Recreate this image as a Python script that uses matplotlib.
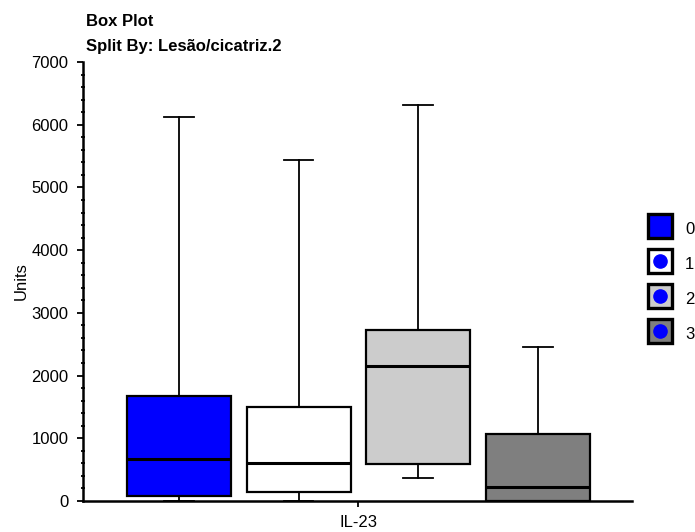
import matplotlib
matplotlib.use("Agg")
import matplotlib.pyplot as plt
from matplotlib.lines import Line2D
from matplotlib.legend_handler import HandlerTuple

plt.rcParams['font.family'] = ['Liberation Sans', 'DejaVu Sans']

# box statistics
groups = ['0', '1', '2', '3']
whislo = [0, 0, 365, 0]
q1 = [80, 144, 590, 0]
med = [670, 611, 2150, 228]
q3 = [1675, 1505, 2725, 1064]
whishi = [6125, 5430, 6320, 2450]
colors = ['#0000ff', '#ffffff', '#cccccc', '#7f7f7f']
show_dot = [False, True, True, True]
xlabel = 'IL-23'

fig = plt.figure(figsize=(6.95, 5.32), dpi=100)
ax = fig.add_axes([83/695, 1 - 501/532, 549/695, 439/532])

stats = []
for i, g in enumerate(groups):
    stats.append(dict(label=g, whislo=whislo[i], q1=q1[i], med=med[i],
                      q3=q3[i], whishi=whishi[i], fliers=[]))

pos = list(range(1, len(groups) + 1))
bp = ax.bxp(stats, positions=pos, widths=0.87, patch_artist=True,
            showfliers=False,
            boxprops=dict(edgecolor='black', linewidth=1.6),
            medianprops=dict(color='black', linewidth=2.2),
            whiskerprops=dict(color='black', linewidth=1.3),
            capprops=dict(color='black', linewidth=1.3),
            capwidths=0.25)
for patch, c in zip(bp['boxes'], colors):
    patch.set_facecolor(c)
    patch.set_zorder(2)

ax.set_xlim(0.197, 4.79)
ax.set_ylim(0, 7000)
ax.set_xticks([2.5])
ax.set_xticklabels([xlabel], fontsize=12)
ax.set_yticks(range(0, 7001, 1000))
ax.set_yticks(range(0, 7001, 200), minor=True)
ax.tick_params(axis='y', which='major', direction='out', length=4, width=1.3, labelsize=12, pad=6.5)
ax.tick_params(axis='y', which='minor', direction='inout', length=3.5, width=1.3)
ax.tick_params(axis='x', direction='out', length=4, width=1.3, pad=6)
ax.spines['top'].set_visible(False)
ax.spines['right'].set_visible(False)
ax.spines['left'].set_linewidth(1.8)
ax.spines['bottom'].set_linewidth(1.8)
ax.set_ylabel('Units', fontsize=12, labelpad=2)

fig.text(86/695, 1 - 22/532, 'Box Plot', fontsize=12, fontweight='bold', va='center', ha='left')
fig.text(86/695, 1 - 47/532, 'Split By: Lesão/cicatriz.2', fontsize=12, fontweight='bold',
         va='center', ha='left')

# legend: square swatch with a blue dot for groups 1-3
handles = []
for c, d in zip(colors, show_dot):
    sq = Line2D([], [], marker='s', linestyle='', markersize=17.5,
                markerfacecolor=c, markeredgecolor='black', markeredgewidth=2.4)
    if d:
        dot = Line2D([], [], marker='o', color='#0000ff', linestyle='', markersize=9.5)
        handles.append((sq, dot))
    else:
        handles.append(sq)
fig.legend(handles, groups, loc='upper left', bbox_to_anchor=(647/695, 1 - 218/532),
           frameon=False, fontsize=12, handlelength=1.56, handleheight=1.56,
           labelspacing=0.84, handletextpad=0.72, borderpad=0, borderaxespad=0,
           handler_map={tuple: HandlerTuple(ndivide=1)})

fig.savefig('out.png', dpi=100)
